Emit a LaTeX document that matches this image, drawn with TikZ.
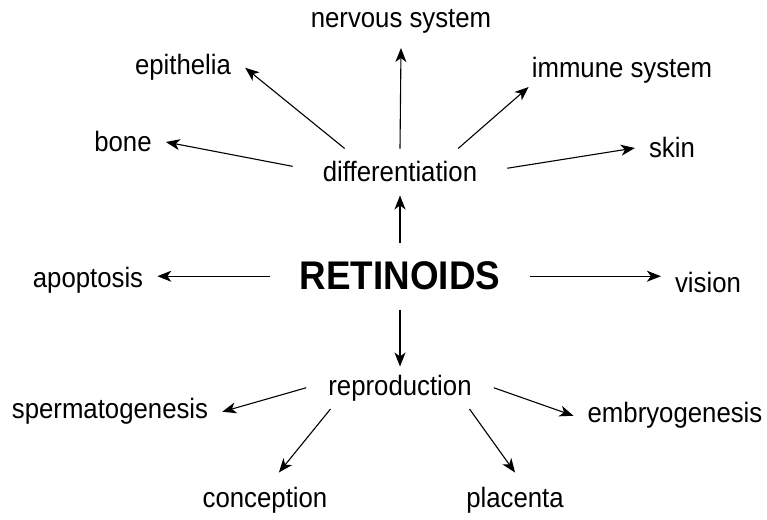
\documentclass[tikz,border=0pt]{standalone}
\usepackage{fontspec}
\setmainfont{Liberation Sans}[FakeStretch=0.92]
\usetikzlibrary{arrows.meta}

\begin{document}
\begin{tikzpicture}[
    x=1pt, y=1pt,
    leaf/.style={anchor=base, inner sep=14pt, font=\fontsize{28}{32}\selectfont},
    hub/.style={anchor=base, inner xsep=30pt, inner ysep=13pt, font=\fontsize{28}{32}\selectfont},
    arrow/.style={-{Stealth[length=14pt,width=11pt,inset=4pt]}, line width=1.1pt}
]
\useasboundingbox (0,0) rectangle (767,519);

\node[hub] (diff) at (400,337) {differentiation};
\node[hub, inner xsep=29.5pt, inner ysep=19pt, font=\fontsize{40}{44}\selectfont\bfseries] (ret) at (400,229) {RETINOIDS};
\node[hub, inner xsep=22pt, inner ysep=8pt] (repr) at (400,124) {reproduction};

\node[leaf] (nerv) at (401,491) {nervous system};
\node[leaf] (epi) at (183,444) {epithelia};
\node[leaf, inner sep=3pt] (immune) at (622,441) {immune system};
\node[leaf] (bone) at (123,367) {bone};
\node[leaf] (skin) at (672,361) {skin};
\node[leaf] (apop) at (88,231) {apoptosis};
\node[leaf] (vision) at (708,226) {vision};
\node[leaf] (sperm) at (110,100) {spermatogenesis};
\node[leaf] (embryo) at (675,96) {embryogenesis};
\node[leaf] (concep) at (265,12) {conception};
\node[leaf] (plac) at (515,12) {placenta};

\draw[arrow] (diff.north) -- (nerv.south);
\draw[arrow] (diff.157) -- (epi.east);
\draw[arrow] (diff.22) -- (immune.south west);
\draw[arrow] (diff.177) -- (bone.east);
\draw[arrow] (diff.2) -- (skin.west);
\draw[arrow] (ret.north) -- (diff.south);
\draw[arrow] (ret.west) -- (ret.west -| apop.east);
\draw[arrow] (ret.east) -- (ret.east -| vision.west);
\draw[arrow] (ret.south) -- (repr.north);
\draw[arrow] (repr.west) -- (sperm.east);
\draw[arrow] (repr.east) -- (embryo.west);
\draw[arrow] (repr.197) -- (concep.63);
\draw[arrow] (repr.343) -- (plac.north);
\end{tikzpicture}
\end{document}
